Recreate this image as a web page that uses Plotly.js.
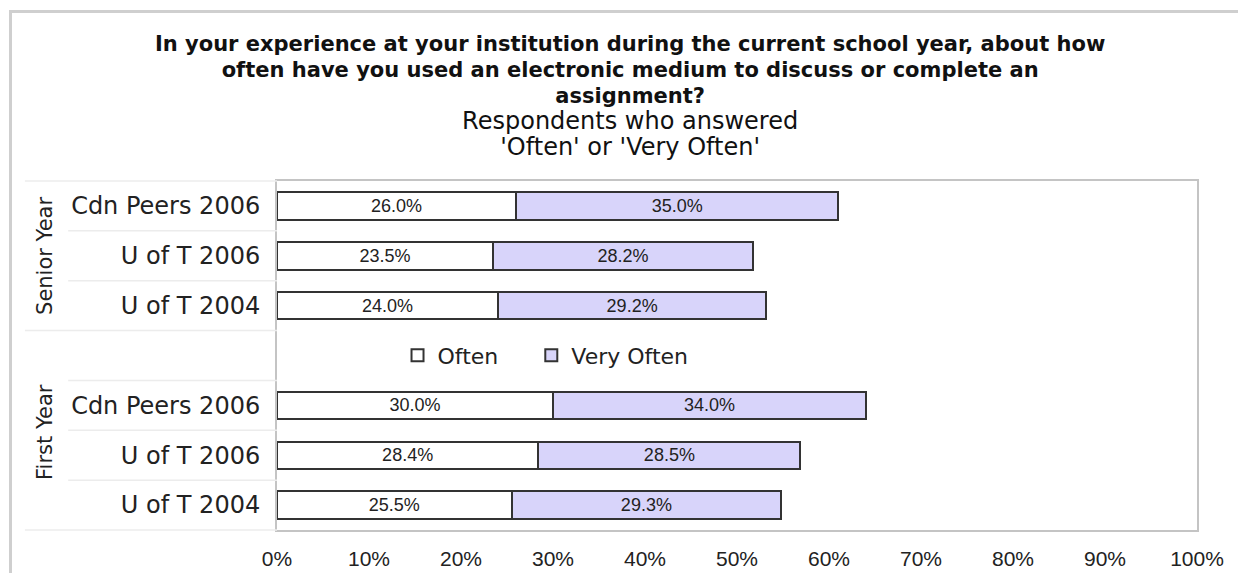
<!DOCTYPE html>
<html>
<head>
<meta charset="utf-8">
<script src="https://cdn.plot.ly/plotly-3.0.1.min.js"></script>
<style>
  body { margin: 0; background: #fff; }
  #graph { width: 1238px; height: 573px; }
  #frame {
    position: absolute; left: 9px; top: 10px; right: 0; bottom: 0;
    border-left: 3px solid #cfcfcf; border-top: 3px solid #cfcfcf;
    pointer-events: none;
  }
</style>
</head>
<body>
<div id="graph"></div>
<div id="frame"></div>
<script>
// survey answers, percent of respondents
const groups = ['Senior Year', 'First Year'];
const respondents = ['Cdn Peers 2006', 'U of T 2006', 'U of T 2004'];
const seriesNames = ['Often', 'Very Often'];
const oftenSenior = [26.0, 23.5, 24.0];
const veryOftenSenior = [35.0, 28.2, 29.2];
const oftenFirst = [30.0, 28.4, 25.5];
const veryOftenFirst = [34.0, 28.5, 29.3];
const xTicks = [0, 10, 20, 30, 40, 50, 60, 70, 80, 90, 100];

// rows top to bottom: senior block, an empty row for the legend, first year block
const rowLabels = [...respondents, '', ...respondents];
const rowIdx = rowLabels.map((_, i) => i);
const nRows = rowLabels.length;
const often = [...oftenSenior, null, ...oftenFirst];
const veryOften = [...veryOftenSenior, null, ...veryOftenFirst];

const barFont = { family: 'Liberation Sans, Arial, sans-serif', size: 18, color: '#222' };

function barTrace(name, values, fill) {
    return {
        type: 'bar',
        orientation: 'h',
        name: name,
        x: values,
        y: rowIdx,
        width: 0.55,
        marker: { color: fill, line: { color: '#333', width: 2 } },
        text: values.map(v => v == null ? '' : v.toFixed(1) + '%'),
        textposition: 'inside',
        insidetextanchor: 'middle',
        textfont: barFont,
        constraintext: 'none',
        hoverinfo: 'skip'
    };
}

// a few non-breaking spaces widen the gap between legend items
const pad = '\u00a0\u00a0\u00a0\u00a0';
const traces = [
    barTrace(seriesNames[0] + pad, often, '#ffffff'),
    barTrace(seriesNames[1], veryOften, '#d8d4fa')
];

// row coordinate (0 = top row) -> paper y
function rowToPaper(r) {
    return 1 - (r + 0.5) / nRows;
}

// light separators left of the plot
const shapes = [];
for (let b = -0.5; b <= nRows - 0.5; b += 1) {
    const isGroupEdge = (b === -0.5 || b === 2.5 || b === nRows - 0.5);
    shapes.push({
        type: 'line', xref: 'paper', yref: 'paper',
        x0: isGroupEdge ? -0.274 : -0.227, x1: 0,
        y0: rowToPaper(b), y1: rowToPaper(b),
        line: { color: '#ececec', width: 1.5 }
    });
}

const groupFont = { family: 'DejaVu Sans, sans-serif', size: 21, color: '#222' };
const annotations = [
    { text: groups[0], xref: 'paper', yref: 'paper', x: -0.252, y: rowToPaper(1),
      xanchor: 'center', yanchor: 'middle',
      textangle: -90, showarrow: false, font: groupFont },
    { text: groups[1], xref: 'paper', yref: 'paper', x: -0.252, y: rowToPaper(4.53),
      xanchor: 'center', yanchor: 'middle',
      textangle: -90, showarrow: false, font: groupFont }
];

const boldLine = t => "<b><span style='font-size:21px'>" + t + "</span></b>";
const subLine = t => "<span style='font-size:24px'>" + t + "</span>";
const titleText = [
    boldLine('In your experience at your institution during the current school year, about how'),
    boldLine('often have you used an electronic medium to discuss or complete an'),
    boldLine('assignment?'),
    subLine('Respondents who answered'),
    subLine("'Often' or 'Very Often'")
].join('<br>');

const layout = {
    title: {
        text: titleText,
        font: { family: 'DejaVu Sans, sans-serif', size: 20, color: '#111' },
        xref: 'container', x: 0.509, xanchor: 'center',
        yref: 'container', y: 0.911, yanchor: 'top'
    },
    barmode: 'stack',
    showlegend: true,
    legend: {
        orientation: 'h',
        x: 0.131, xanchor: 'left',
        y: rowToPaper(3), yanchor: 'middle',
        bgcolor: 'rgba(0,0,0,0)',
        font: { family: 'DejaVu Sans, sans-serif', size: 22, color: '#222' },
        traceorder: 'normal'
    },
    paper_bgcolor: '#fff',
    plot_bgcolor: '#fff',
    margin: { l: 277, r: 41, t: 181, b: 43, pad: 0 },
    xaxis: {
        range: [0, 100],
        tickvals: xTicks,
        ticktext: xTicks.map(t => t + '%'),
        showgrid: false,
        zeroline: false,
        showline: true, mirror: true, linecolor: '#c4c4c4', linewidth: 2,
        ticks: 'outside', ticklen: 9, tickcolor: 'rgba(0,0,0,0)',
        tickfont: { family: 'Liberation Sans, Arial, sans-serif', size: 21, color: '#222' }
    },
    yaxis: {
        range: [nRows - 0.5, -0.5],
        tickvals: rowIdx,
        ticktext: rowLabels,
        showgrid: false,
        zeroline: false,
        showline: true, mirror: true, linecolor: '#c4c4c4', linewidth: 2,
        ticks: 'outside', ticklen: 10, tickcolor: 'rgba(0,0,0,0)',
        tickfont: { family: 'DejaVu Sans, sans-serif', size: 24, color: '#222' }
    },
    shapes: shapes,
    annotations: annotations
};

Plotly.newPlot('graph', traces, layout, { displayModeBar: false, staticPlot: true });
</script>
</body>
</html>
